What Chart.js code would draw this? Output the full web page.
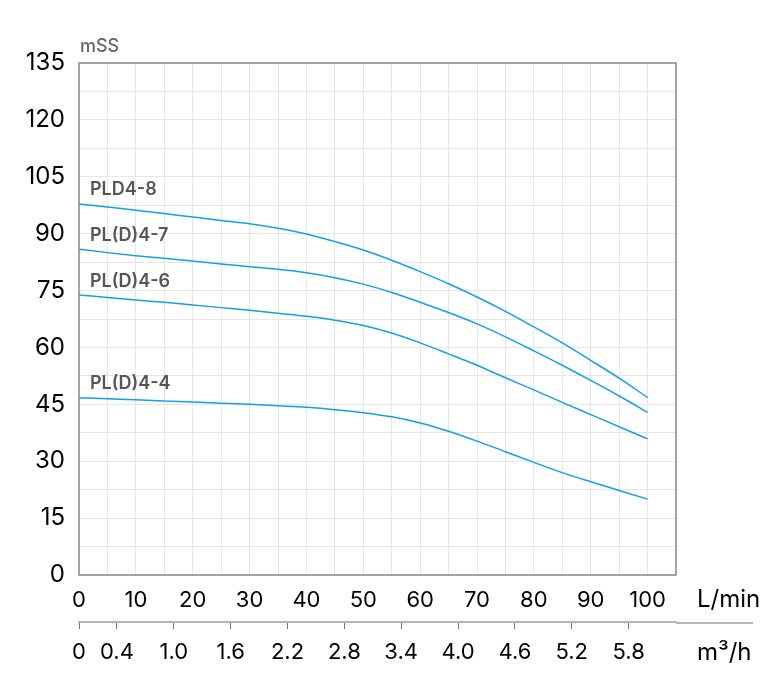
<!DOCTYPE html>
<html><head><meta charset="utf-8">
<script src="https://cdn.jsdelivr.net/npm/chart.js@4/dist/chart.umd.min.js"></script>
<style>html,body{margin:0;padding:0;background:#fff;}#wrap{width:775px;height:679px;position:relative;}</style>
</head><body><div id="wrap"><canvas id="c" width="775" height="679"></canvas></div>
<script>
// ---- data ----
const flowLmin = [0,5,10,15,20,25,30,35,40,45,50,55,60,65,70,75,80,85,90,95,100];
const seriesNames = ['PLD4-8','PL(D)4-7','PL(D)4-6','PL(D)4-4'];
const headPLD48 = [97.8,97.0,96.2,95.3,94.4,93.5,92.6,91.4,89.9,87.9,85.7,83.0,80.0,76.8,73.3,69.5,65.4,61.2,56.6,51.9,46.8];
const headPL47  = [85.9,85.0,84.2,83.5,82.8,82.0,81.3,80.6,79.7,78.4,76.7,74.5,71.9,69.2,66.2,62.8,59.1,55.3,51.3,47.2,42.9];
const headPL46  = [73.8,73.2,72.5,71.9,71.2,70.5,69.8,69.0,68.2,67.2,65.8,63.8,61.2,58.3,55.3,52.0,48.8,45.5,42.3,39.1,35.9];
const headPL44  = [46.7,46.5,46.2,45.9,45.6,45.3,45.0,44.6,44.2,43.6,42.8,41.7,40.1,37.9,35.3,32.5,29.7,27.0,24.6,22.3,20.0];
const m3hTicks = [0,0.4,1.0,1.6,2.2,2.8,3.4,4.0,4.6,5.2,5.8];
const yUnit = 'mSS', xUnit = 'L/min', x2Unit = 'm³/h';

const FONT = 'Inter, "Liberation Sans", sans-serif';
const LINE = '#14a0e6';
const allSeries = [headPLD48, headPL47, headPL46, headPL44];

const datasets = allSeries.map((vals, i) => ({
  label: seriesNames[i],
  data: flowLmin.map((x, j) => ({x: x, y: vals[j]})),
  borderColor: LINE, borderWidth: 1.5, pointRadius: 0,
  cubicInterpolationMode: 'monotone', fill: false
}));

const decorPlugin = {
  id: 'decor',
  afterDraw(chart) {
    const {ctx, chartArea: a, scales} = chart;
    ctx.save();
    // plot frame
    ctx.strokeStyle = '#8a8a8a'; ctx.lineWidth = 1.5;
    ctx.strokeRect(a.left, a.top, a.right - a.left, a.bottom - a.top);
    // extend secondary axis line
    const x2 = scales.x2;
    ctx.strokeStyle = '#b5b5b5'; ctx.lineWidth = 2;
    ctx.beginPath(); ctx.moveTo(x2.right, x2.top + 1); ctx.lineTo(x2.right + 77, x2.top + 1); ctx.stroke();
    // units
    ctx.fillStyle = '#000'; ctx.textBaseline = 'middle'; ctx.textAlign = 'left';
    ctx.font = '24px ' + FONT;
    ctx.fillText(xUnit, a.right + 21, 600);
    ctx.fillText(x2Unit, a.right + 21, 653);
    ctx.fillStyle = '#666'; ctx.font = '500 18px ' + FONT;
    ctx.fillText(yUnit, a.left + 1, 47);
    // series labels
    ctx.fillStyle = '#555'; ctx.font = '600 18px ' + FONT;
    chart.data.datasets.forEach((ds, i) => {
      const p = chart.getDatasetMeta(i).data[0];
      ctx.fillText(ds.label, a.left + 11, p.y - 14);
    });
    ctx.restore();
  }
};

new Chart(document.getElementById('c'), {
  type: 'line',
  data: {datasets},
  plugins: [decorPlugin],
  options: {
    responsive: false, animation: false, devicePixelRatio: 1,
    layout: {padding: {top: 63, right: 99, left: 0, bottom: 0}},
    plugins: {legend: {display: false}, tooltip: {enabled: false}},
    scales: {
      x: {
        type: 'linear', position: 'bottom', min: 0, max: 105, weight: 0,
        afterFit(s) { s.height = 47; },
        ticks: {stepSize: 5, autoSkip: false, maxRotation: 0, padding: 12, color: '#000',
          font: {size: 22, family: FONT},
          callback: v => (v % 10 === 0 ? String(v) : '')},
        grid: {color: '#e6e6e6', lineWidth: 1, drawTicks: false},
        border: {display: false}
      },
      x2: {
        type: 'linear', position: 'bottom', min: 0, max: 6.3, weight: 1,
        afterFit(s) { s.height = 57; },
        afterBuildTicks(s) { s.ticks = m3hTicks.map(v => ({value: v})); },
        ticks: {autoSkip: false, maxRotation: 0, padding: 10, color: '#000',
          font: {size: 22, family: FONT},
          callback: v => (v === 0 ? '0' : Number(v).toFixed(1))},
        grid: {drawOnChartArea: false, drawTicks: true, tickLength: 7, color: '#777', lineWidth: 1},
        border: {display: true, color: '#b5b5b5', width: 2}
      },
      y: {
        type: 'linear', min: 0, max: 135,
        afterFit(s) { s.width = 79; },
        ticks: {stepSize: 7.5, autoSkip: false, padding: 14, color: '#000',
          font: {size: 24, family: FONT},
          callback: v => (v % 15 === 0 ? String(v) : '')},
        grid: {color: '#e6e6e6', lineWidth: 1, drawTicks: false},
        border: {display: false}
      }
    }
  }
});
</script></body></html>
